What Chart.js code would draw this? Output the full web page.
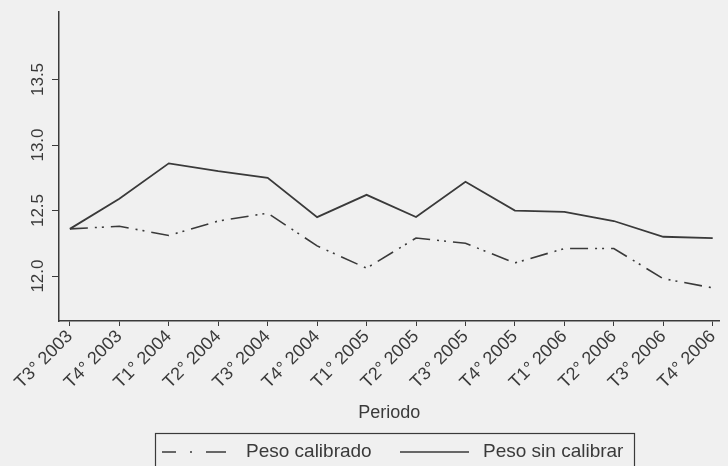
<!DOCTYPE html>
<html>
<head>
<meta charset="utf-8">
<script src="https://cdn.jsdelivr.net/npm/chart.js"></script>
<style>
  html, body { margin: 0; padding: 0; background: #f0f0f0; }
  #wrap { width: 728px; height: 466px; position: relative; }
</style>
</head>
<body>
<div id="wrap"><canvas id="chart"></canvas></div>
<script>
// Data
const periodos = ['T3° 2003', 'T4° 2003', 'T1° 2004', 'T2° 2004', 'T3° 2004', 'T4° 2004', 'T1° 2005',
                  'T2° 2005', 'T3° 2005', 'T4° 2005', 'T1° 2006', 'T2° 2006', 'T3° 2006', 'T4° 2006'];
const pesoCalibrado = [12.36, 12.38, 12.31, 12.42, 12.48, 12.23, 12.06, 12.29, 12.25, 12.10, 12.21, 12.21, 11.98, 11.91];
const pesoSinCalibrar = [12.36, 12.59, 12.86, 12.80, 12.75, 12.45, 12.62, 12.45, 12.72, 12.50, 12.49, 12.42, 12.30, 12.29];
const yTicks = [12.0, 12.5, 13.0, 13.5];

const ink = '#3a3a3a';
const font = 'Liberation Sans, Arial, Helvetica, sans-serif';
const calibradoDash = [18, 7, 2, 5, 2, 7];

const toPoints = arr => arr.map((v, i) => ({ x: i, y: v }));

// background + boxed legend at the bottom
const decor = {
    id: 'decor',
    beforeDraw(chart) {
        const ctx = chart.ctx;
        ctx.save();
        ctx.fillStyle = '#f0f0f0';
        ctx.fillRect(0, 0, chart.width, chart.height);
        ctx.restore();
    },
    afterDraw(chart) {
        const ctx = chart.ctx;
        ctx.save();
        ctx.strokeStyle = ink;
        ctx.lineWidth = 1.2;
        ctx.strokeRect(155.5, 433.5, 479, 40);

        const y = 452;
        ctx.lineWidth = 1.5;
        ctx.setLineDash([14, 14, 2, 14, 20]);
        ctx.beginPath();
        ctx.moveTo(162, y);
        ctx.lineTo(228, y);
        ctx.stroke();
        ctx.setLineDash([]);
        ctx.beginPath();
        ctx.moveTo(400, y);
        ctx.lineTo(469, y);
        ctx.stroke();

        ctx.fillStyle = ink;
        ctx.font = '19px ' + font;
        ctx.textBaseline = 'middle';
        ctx.textAlign = 'left';
        ctx.fillText(chart.data.datasets[0].label, 246, y);
        ctx.fillText(chart.data.datasets[1].label, 483, y);
        ctx.restore();
    }
};

new Chart(document.getElementById('chart'), {
    type: 'line',
    data: {
        datasets: [{
            label: 'Peso calibrado',
            data: toPoints(pesoCalibrado),
            borderColor: ink,
            borderWidth: 1.6,
            borderDash: calibradoDash,
            pointRadius: 0,
            fill: false,
            tension: 0
        }, {
            label: 'Peso sin calibrar',
            data: toPoints(pesoSinCalibrar),
            borderColor: ink,
            borderWidth: 1.8,
            pointRadius: 0,
            fill: false,
            tension: 0
        }]
    },
    options: {
        responsive: true,
        maintainAspectRatio: false,
        animation: false,
        layout: { padding: { top: 12, right: 1, bottom: 40, left: 0 } },
        plugins: {
            legend: { display: false },
            tooltip: { enabled: false }
        },
        scales: {
            x: {
                type: 'linear',
                min: -0.22,
                max: 13.14,
                afterBuildTicks: scale => { scale.ticks = periodos.map((p, i) => ({ value: i })); },
                afterFit: scale => { scale.height = 105; },
                grid: { drawOnChartArea: false, drawTicks: true, tickLength: 5, color: ink },
                border: { display: true, color: ink, width: 1.5 },
                ticks: {
                    autoSkip: false,
                    minRotation: 45,
                    maxRotation: 45,
                    padding: 0,
                    color: ink,
                    font: { family: font, size: 18 },
                    callback: v => periodos[v]
                },
                title: {
                    display: true,
                    text: 'Periodo',
                    color: ink,
                    font: { family: font, size: 18 },
                    padding: { top: 0, bottom: 2 }
                }
            },
            y: {
                min: 11.657,
                max: 14.015,
                afterBuildTicks: scale => { scale.ticks = yTicks.map(v => ({ value: v })); },
                afterFit: scale => { scale.width = 59; },
                grid: { drawOnChartArea: false, drawTicks: true, tickLength: 7, color: ink },
                border: { display: true, color: ink, width: 1.5 },
                ticks: {
                    minRotation: 90,
                    maxRotation: 90,
                    crossAlign: 'center',
                    padding: -3,
                    color: ink,
                    font: { family: font, size: 17 },
                    callback: v => v.toFixed(1)
                }
            }
        }
    },
    plugins: [decor]
});
</script>
</body>
</html>
